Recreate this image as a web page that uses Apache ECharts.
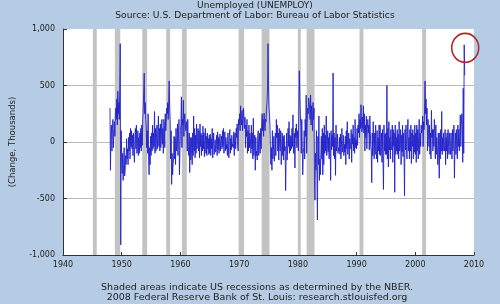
<!DOCTYPE html>
<html>
<head>
<meta charset="utf-8">
<script src="https://cdn.jsdelivr.net/npm/echarts@6/dist/echarts.min.js"></script>
<style>
html,body{margin:0;padding:0;background:#b5cce4;}
#c{width:500px;height:304px;}
</style>
</head>
<body>
<div id="c"></div>
<script>
// ---- data ----
var titleText = 'Unemployed (UNEMPLOY)';
var subtitleText = 'Source: U.S. Department of Labor: Bureau of Labor Statistics';
var footer1 = 'Shaded areas indicate US recessions as determined by the NBER.';
var footer2 = '2008 Federal Reserve Bank of St. Louis: research.stlouisfed.org';
var yAxisName = '(Change, Thousands)';
var xTicks = [1940, 1950, 1960, 1970, 1980, 1990, 2000, 2010];
var yTicks = [-1000, -500, 0, 500, 1000];
var startYear = 1948; // first month: Jan 1948
var highlightYear = 2008; // circled spike
// Monthly change in unemployed persons (thousands), one row per year
var monthlyChange = [
  300, -250, 60, 150, -80, 120, 200, -50, 100, 180, 50, 250,        // 1948
  300, 200, 380, 150, 450, 250, 350, 200, 450, 870, -910, 100,      // 1949
  -150, -280, -100, -340, -200, -50, -300, -250, -120, -200, 30, -150, // 1950
  -60, -200, 40, -80, 80, -150, 120, -40, 100, -60, 60, -120,       // 1951
  80, -80, -180, 50, 120, -60, 150, -100, -40, 100, -120, 40,       // 1952
  -100, 80, -50, 120, -80, 150, -30, 200, 300, 450, 610, 250,       // 1953
  350, 200, 150, -50, 100, -100, 250, -150, -290, -50, -200, 50,    // 1954
  -120, 80, -80, 150, -60, 80, -40, 270, -100, 120, -80, 40,        // 1955
  150, -60, 80, 230, -40, 120, -80, 160, -50, 60, 200, -20,         // 1956
  120, -100, 200, 150, -50, 250, 100, 180, 300, 250, 350, 200,      // 1957
  350, 540, 300, 200, -150, 100, -375, -100, -290, -200, -150, 50,  // 1958
  -150, 40, -200, 120, -80, -40, 160, -120, 80, 200, -290, -80,     // 1959
  100, 150, 400, -50, 200, 150, 370, 50, 200, 250, 150, 100,        // 1960
  180, 120, -80, 200, -40, -120, 80, -270, 40, -160, -120, 40,      // 1961
  -200, 80, -120, 230, -80, 120, -140, 60, -100, 160, -60, 40,      // 1962
  120, -80, 100, -140, 160, -40, 80, -120, 60, -80, 140, -60,       // 1963
  80, -130, 40, 120, -100, 50, -120, 80, -60, 30, -110, 60,         // 1964
  -100, 70, -120, 30, -60, 120, -140, -30, 80, -110, -50, 20,       // 1965
  -90, -40, 60, -120, 90, -70, 40, -100, 30, 70, -80, 10,           // 1966
  50, -60, 100, -40, 120, -100, 60, 90, -80, 40, -60, -20,          // 1967
  -120, 80, -50, -140, 60, 110, -100, 30, -70, 60, -40, -20,        // 1968
  -50, 90, -120, 60, 80, -60, 120, 40, 160, -40, -80, 200,          // 1969
  150, 250, 100, 320, 200, 150, 280, 100, 200, 300, 180, 120,       // 1970
  220, -50, 150, 50, 200, -100, 100, -80, 150, -50, 80, 30,         // 1971
  -100, 150, -60, 80, -150, 210, -120, -50, 60, -250, 40, -120,     // 1972
  -80, -160, 60, 100, -120, -40, 80, -100, 120, -60, 150, 250,      // 1973
  100, 200, 50, 255, 150, 100, 200, 180, 300, 350, 460, 870,        // 1974
  500, 300, 250, 150, -100, -200, -50, -250, 100, -150, -75, 50,    // 1975
  -170, -80, 80, -120, 200, 40, 150, -80, 80, -160, 120, -40,       // 1976
  -80, 100, -200, -60, 80, -120, 50, -160, 60, -80, -40, -430,      // 1977
  -120, 80, -160, -80, 120, -40, 180, -100, 60, -80, 50, -60,       // 1978
  120, -40, 240, -100, -80, 80, -230, 120, 40, 160, -50, 100,       // 1979
  100, -80, 300, 630, 400, 250, 150, -100, 200, -50, -290, -100,    // 1980
  -50, 100, -150, 200, 50, 415, -100, 150, 300, 250, 390, 350,      // 1981
  300, 200, 415, 150, 320, 250, 100, 350, 200, 300, -340, -515,     // 1982
  -100, -250, 100, -300, -690, 50, -200, 230, -340, -150, -290, -100, // 1983
  50, -150, 120, -290, 80, -200, 150, -100, 60, -80, 230, -120,     // 1984
  -60, 100, -90, 40, -150, 80, -30, -340, 100, -70, 60, -40,        // 1985
  610, -120, 80, -150, 40, -295, 150, -80, -30, 70, -100, -50,      // 1986
  -80, 40, -110, 70, -150, -50, 120, -90, -30, 60, -120, -20,       // 1987
  -90, 50, -200, 100, -60, 180, -110, -40, 80, -150, 30, -60,       // 1988
  -40, 110, -180, 70, -20, 150, -80, 40, -100, 200, -50, 20,        // 1989
  -60, 120, -30, 150, 80, 250, 40, 200, 120, 330, 180, 90,          // 1990
  220, 120, 320, 80, 250, -80, 150, 40, 230, -60, 120, 200,         // 1991
  80, 150, -70, 230, 100, -40, -80, -360, 80, -120, 180, -40,       // 1992
  -150, 80, -110, 150, -70, -150, 100, -180, 40, -80, 150, -110,    // 1993
  150, -120, -70, 80, -180, 110, -150, -420, 150, -80, 70, -110,    // 1994
  80, -110, 500, -150, 120, -220, 180, -70, 40, -150, 110, -40,     // 1995
  -70, 150, -180, 110, -40, 80, -445, 150, -110, 40, -80, 110,      // 1996
  -110, 70, -150, 180, -80, -40, 110, -200, 60, -90, 150, -130,     // 1997
  80, -110, -475, 110, -70, 150, -40, -150, 90, 200, -80, 40,       // 1998
  -150, 110, -80, 150, -190, 80, -40, 110, -150, 60, -90, 150,      // 1999
  -110, 80, -180, 150, -80, 110, -150, 60, 200, -110, 80, -40,      // 2000
  150, 80, 110, 230, -40, 180, 110, 300, 540, 250, 380, 150,        // 2001
  300, -80, 200, 110, -40, 150, -110, 80, -150, 280, 40, 110,       // 2002
  -80, 110, -40, 200, 80, -150, 150, -110, 40, -80, -200, 80,       // 2003
  -110, -320, 80, -150, 110, -80, 270, -110, 40, -80, 80, -40,      // 2004
  -80, 110, -200, 40, -80, 80, -150, 110, -40, -110, 80, -60,       // 2005
  -110, 80, -40, -150, 110, -80, 40, 150, -320, -40, 80, -110,      // 2006
  110, -80, -150, 150, -40, 110, -80, 80, 240, -40, 150, 250,       // 2007
  200, -180, 475, -100, 860, 590                                    // 2008
];
// NBER recession periods
var recessionStart = ['1945-02', '1948-11', '1953-07', '1957-08', '1960-04', '1969-12', '1973-11', '1980-01', '1981-07', '1990-07', '2001-03'];
var recessionEnd   = ['1945-10', '1949-10', '1954-05', '1958-04', '1961-02', '1970-11', '1975-03', '1980-07', '1982-11', '1991-03', '2001-11'];

// ---- build ----
function ym(s) { var p = s.split('-'); return +p[0] + (+p[1] - 1) / 12; }
var lineData = monthlyChange.map(function (v, i) { return [startYear + i / 12, v]; });
var areas = recessionStart.map(function (s, i) { return [{ xAxis: ym(s) }, { xAxis: ym(recessionEnd[i]) }]; });
function fmtNum(v) { return (v < 0 ? '-' : '') + String(Math.abs(v)).replace(/\B(?=(\d{3})+(?!\d))/g, ','); }
// highlighted point: the largest value within highlightYear
var hiIdx = -1;
lineData.forEach(function (d, i) {
  if (Math.floor(d[0] + 1e-9) === highlightYear && (hiIdx < 0 || d[1] > lineData[hiIdx][1])) hiIdx = i;
});

var FONT = 'DejaVu Sans';
var chart = echarts.init(document.getElementById('c'), null, { renderer: 'canvas' });
chart.setOption({
  backgroundColor: '#b5cce4',
  animation: false,
  grid: { left: 61, right: 26, top: 29, bottom: 49, show: true, backgroundColor: '#ffffff', borderWidth: 0 },
  xAxis: {
    type: 'value', min: xTicks[0], max: xTicks[xTicks.length - 1], interval: 10,
    axisLine: { show: true, onZero: false, lineStyle: { color: '#333', width: 1 } },
    axisTick: { show: true, inside: true, length: 3, lineStyle: { color: '#333' } },
    axisLabel: { color: '#222', fontFamily: FONT, fontSize: 8, margin: 6, formatter: function (v) { return String(v); } },
    splitLine: { show: false }
  },
  yAxis: {
    type: 'value', min: yTicks[0], max: yTicks[yTicks.length - 1], interval: 500,
    name: yAxisName, nameLocation: 'middle', nameGap: 46, nameRotate: 90,
    nameTextStyle: { color: '#222', fontFamily: FONT, fontSize: 8.5 },
    axisLine: { show: true, lineStyle: { color: '#333', width: 1 } },
    axisTick: { show: true, inside: true, length: 4, lineStyle: { color: '#333' } },
    axisLabel: { color: '#222', fontFamily: FONT, fontSize: 8, margin: 8, formatter: fmtNum },
    splitLine: { show: true, lineStyle: { color: ['rgba(0,0,0,0)', '#bdbdbd', '#bdbdbd', '#bdbdbd', 'rgba(0,0,0,0)'], width: 1 } }
  },
  graphic: [
    { type: 'text', x: 255, y: 6, style: { text: titleText, fill: '#222', font: '9px "DejaVu Sans"', textAlign: 'center', textVerticalAlign: 'middle' } },
    { type: 'text', x: 255, y: 16, style: { text: subtitleText, fill: '#222', font: '9.2px "DejaVu Sans"', textAlign: 'center', textVerticalAlign: 'middle' } },
    { type: 'text', x: 257, y: 288, style: { text: footer1, fill: '#222', font: '9.5px "DejaVu Sans"', textAlign: 'center', textVerticalAlign: 'middle' } },
    { type: 'text', x: 257, y: 298, style: { text: footer2, fill: '#222', font: '9.5px "DejaVu Sans"', textAlign: 'center', textVerticalAlign: 'middle' } }
  ],
  series: [
    {
      type: 'line', data: [], z: 1, silent: true,
      markArea: { silent: true, itemStyle: { color: '#c3c3c3' }, data: areas }
    },
    {
      type: 'line', data: lineData, z: 3, showSymbol: false, symbol: 'none',
      lineStyle: { color: '#2020c8', width: 0.9 },
      markPoint: {
        silent: true, symbol: 'circle', symbolSize: [27, 29], symbolOffset: [1, 3],
        itemStyle: { color: 'rgba(0,0,0,0)', borderColor: '#b3262c', borderWidth: 1.6 },
        label: { show: false },
        data: [{ coord: lineData[hiIdx] }]
      }
    }
  ]
});
</script>
</body>
</html>
